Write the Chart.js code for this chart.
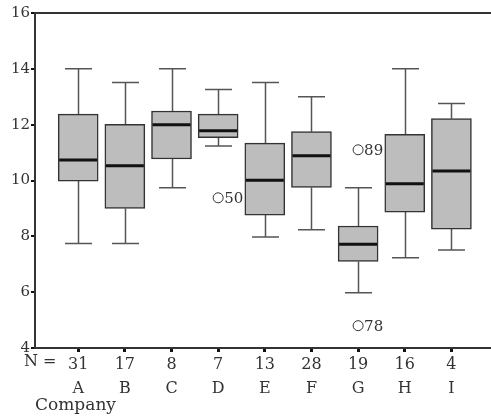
<!DOCTYPE html>
<html>
<head>
<meta charset="utf-8">
<script src="https://cdn.jsdelivr.net/npm/chart.js@4/dist/chart.umd.min.js"></script>
<style>
  html, body { margin: 0; padding: 0; background: #fff; overflow: hidden; }
  #wrap { width: 491px; height: 417px; }
  #c { display: block; }
</style>
</head>
<body>
<div id="wrap"><canvas id="c" width="491" height="417"></canvas></div>
<script>
// Box plot per company: whiskers, quartiles, medians and flagged outliers
const companies = ['A', 'B', 'C', 'D', 'E', 'F', 'G', 'H', 'I'];
const counts = [31, 17, 8, 7, 13, 28, 19, 16, 4];
const lowerWhisker = [7.74, 7.74, 9.74, 11.24, 7.98, 8.24, 5.98, 7.23, 7.51];
const q1 = [9.98, 9.0, 10.77, 11.53, 8.76, 9.75, 7.1, 8.87, 8.26];
const medians = [10.73, 10.53, 12.0, 11.78, 10.01, 10.89, 7.72, 9.88, 10.34];
const q3 = [12.38, 12.01, 12.49, 12.38, 11.34, 11.75, 8.37, 11.65, 12.22];
const upperWhisker = [14.0, 13.51, 14.0, 13.26, 13.51, 13.0, 9.74, 14.0, 12.76];
const outlierCompany = ['D', 'G', 'G'];
const outlierValues = [9.38, 11.1, 4.8];
const outlierCases = ['50', '89', '78'];
const yTicks = [4, 6, 8, 10, 12, 14, 16];

const FONT = 'DejaVu Serif';
const TEXT = '#333';
Chart.defaults.font.family = FONT;
Chart.defaults.color = TEXT;

const pos = i => i + 1;

const boxData = companies.map((c, i) => ({ x: pos(i), y: [q1[i], q3[i]] }));
const outlierData = outlierValues.map((v, k) => ({ x: pos(companies.indexOf(outlierCompany[k])), y: v }));

const boxplotParts = {
  id: 'boxplotParts',
  beforeDatasetsDraw(chart) {
    const { ctx, scales: { x, y } } = chart;
    ctx.save();
    ctx.strokeStyle = '#555';
    ctx.lineWidth = 1.5;
    companies.forEach((c, i) => {
      const px = Math.round(x.getPixelForValue(pos(i))) + 0.5;
      ctx.beginPath();
      ctx.moveTo(px, y.getPixelForValue(lowerWhisker[i]));
      ctx.lineTo(px, y.getPixelForValue(q1[i]));
      ctx.moveTo(px, y.getPixelForValue(q3[i]));
      ctx.lineTo(px, y.getPixelForValue(upperWhisker[i]));
      [lowerWhisker[i], upperWhisker[i]].forEach(v => {
        const py = y.getPixelForValue(v);
        ctx.moveTo(px - 13.5, py);
        ctx.lineTo(px + 13.5, py);
      });
      ctx.stroke();
    });
    ctx.restore();
  },
  afterDatasetsDraw(chart) {
    const { ctx, scales: { x, y } } = chart;
    ctx.save();
    ctx.strokeStyle = '#111';
    ctx.lineWidth = 3;
    companies.forEach((c, i) => {
      const px = x.getPixelForValue(pos(i));
      const py = y.getPixelForValue(medians[i]);
      ctx.beginPath();
      ctx.moveTo(px - 19, py);
      ctx.lineTo(px + 19, py);
      ctx.stroke();
    });
    ctx.fillStyle = TEXT;
    ctx.font = '15px "' + FONT + '"';
    ctx.textAlign = 'left';
    ctx.textBaseline = 'middle';
    outlierData.forEach((p, k) => {
      ctx.fillText(outlierCases[k], x.getPixelForValue(p.x) + 6, y.getPixelForValue(p.y) + 1);
    });
    ctx.font = '16px "' + FONT + '"';
    ctx.textBaseline = 'top';
    ctx.fillText('N =', 24, y.bottom + 6);
    ctx.restore();
  },
  afterDraw(chart) {
    // frame lines (top at 16, bottom axis) continue to the canvas edge
    const { ctx, chartArea, scales: { y } } = chart;
    ctx.save();
    ctx.strokeStyle = '#333';
    ctx.lineWidth = 2;
    ctx.beginPath();
    [y.getPixelForValue(16), y.getPixelForValue(4)].forEach(py => {
      ctx.moveTo(chartArea.right - 1, py);
      ctx.lineTo(chart.width, py);
    });
    ctx.stroke();
    ctx.restore();
  }
};

new Chart(document.getElementById('c'), {
  type: 'bar',
  data: {
    datasets: [
      {
        type: 'scatter',
        data: outlierData,
        pointStyle: 'circle',
        pointRadius: 5,
        pointBackgroundColor: '#fff',
        pointBorderColor: '#333',
        pointBorderWidth: 1,
        order: 0
      },
      {
        data: boxData,
        backgroundColor: '#bdbdbd',
        borderColor: '#333',
        borderWidth: 1.5,
        borderSkipped: false,
        barThickness: 40,
        grouped: false,
        order: 1
      }
    ]
  },
  options: {
    responsive: false,
    animation: false,
    layout: { padding: { top: 13, right: 0, left: 0, bottom: 0 } },
    plugins: { legend: { display: false }, tooltip: { enabled: false } },
    scales: {
      x: {
        type: 'linear',
        offset: false,
        min: 0.074,
        max: 9.72,
        afterBuildTicks: s => { s.ticks = companies.map((c, i) => ({ value: pos(i) })); },
        afterFit: s => { s.height = 69; s.paddingLeft = 0; s.paddingRight = 0; },
        border: { display: true, color: '#333', width: 2 },
        grid: { offset: false, drawOnChartArea: false, tickColor: '#111', tickWidth: 3, tickLength: 4 },
        ticks: {
          autoSkip: false,
          maxRotation: 0,
          padding: 1,
          font: { size: 16, lineHeight: 1.5 },
          color: TEXT,
          callback: v => {
            const i = Math.round(v) - 1;
            return [String(counts[i]), companies[i]];
          }
        },
        title: {
          display: true,
          text: 'Company',
          align: 'start',
          color: TEXT,
          font: { size: 17 },
          padding: { top: 0, bottom: 1 }
        }
      },
      y: {
        min: 4,
        max: 16,
        afterBuildTicks: s => { s.ticks = yTicks.map(v => ({ value: v })); },
        afterFit: s => { s.width = 35; },
        border: { display: true, color: '#333', width: 2 },
        grid: {
          color: c => (c.tick && c.tick.value === 16 ? '#333' : 'rgba(0,0,0,0)'),
          lineWidth: 2,
          tickColor: '#111',
          tickWidth: 2,
          tickLength: 4,
          drawTicks: true
        },
        ticks: { padding: 1, font: { size: 15 }, color: TEXT }
      }
    }
  },
  plugins: [boxplotParts]
});
</script>
</body>
</html>
